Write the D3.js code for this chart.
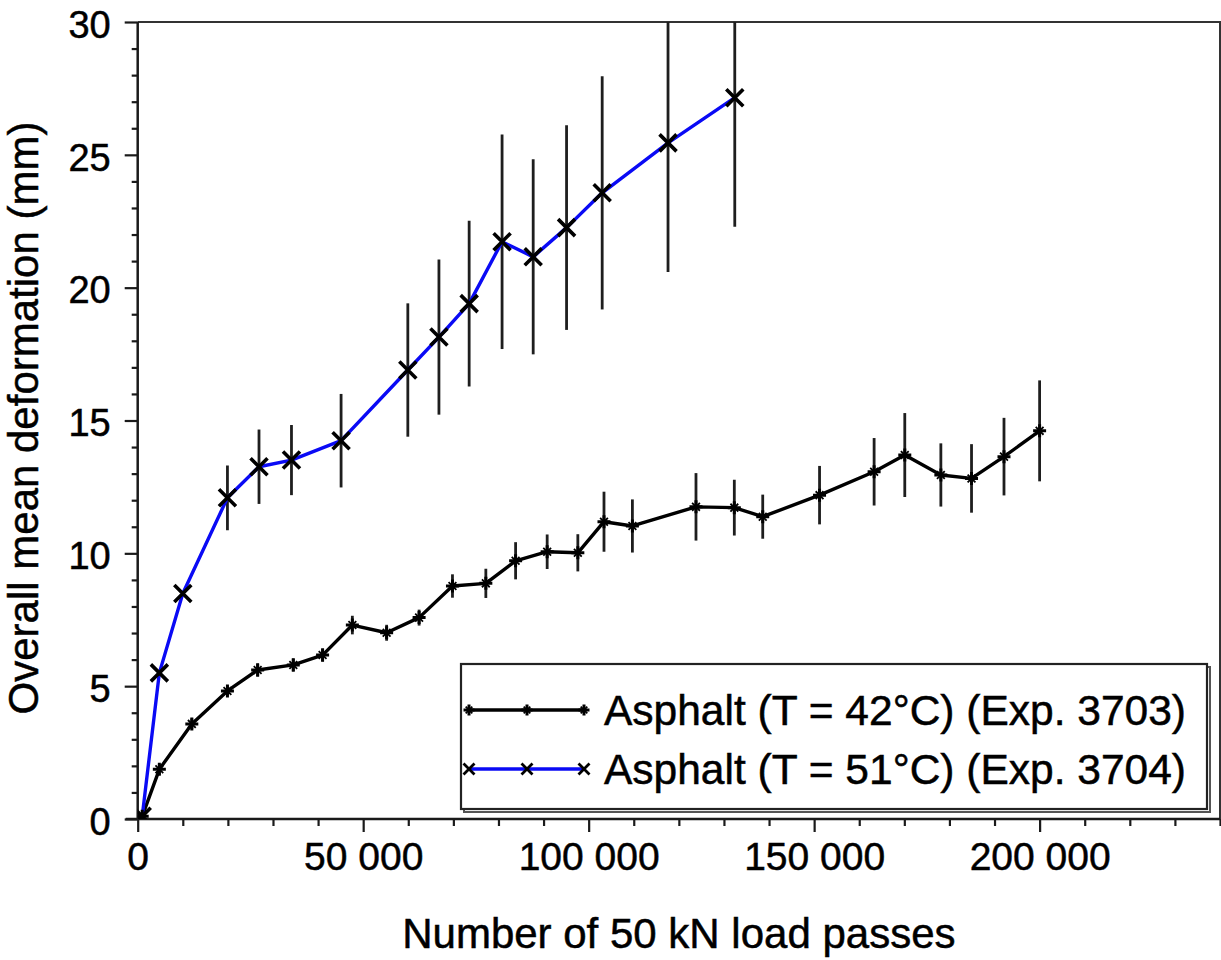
<!DOCTYPE html>
<html>
<head>
<meta charset="utf-8">
<script src="https://cdn.jsdelivr.net/npm/d3@7"></script>
<style>
  html, body { margin: 0; padding: 0; background: #fff; }
  svg { display: block; }
  text { font-family: "Liberation Sans", Arial, sans-serif; fill: #000; stroke: #000; stroke-width: 0.5px; }
</style>
</head>
<body>
<svg id="chart" width="1221" height="960"></svg>
<script>
// ---- Data ----
const series42X   = [1000, 4800, 12000, 19900, 26600, 34500, 41000, 47600, 55200, 62400, 69800, 77200, 83800, 90800, 97600, 103400, 109700, 123800, 132300, 138600, 151200, 163300, 170100, 178100, 184900, 192100, 200000];
const series42Y   = [0.1, 1.87, 3.58, 4.82, 5.61, 5.80, 6.17, 7.30, 7.01, 7.58, 8.77, 8.87, 9.72, 10.06, 10.02, 11.19, 11.03, 11.75, 11.72, 11.38, 12.19, 13.07, 13.70, 12.95, 12.82, 13.64, 14.61];
const series42Err = [0, 0.2, 0.2, 0.2, 0.25, 0.25, 0.25, 0.35, 0.3, 0.3, 0.44, 0.55, 0.7, 0.65, 0.7, 1.13, 1.0, 1.27, 1.05, 0.83, 1.1, 1.27, 1.58, 1.19, 1.29, 1.46, 1.9];

const series51X   = [1000, 4800, 10000, 19900, 26900, 34100, 45100, 59900, 66800, 73500, 80800, 87700, 95100, 103000, 117600, 132400];
const series51Y   = [0.1, 5.5, 8.49, 12.09, 13.26, 13.51, 14.24, 16.9, 18.14, 19.4, 21.73, 21.16, 22.26, 23.57, 25.45, 27.15];
const series51Err = [0, 0, 0, 1.22, 1.4, 1.32, 1.76, 2.51, 2.92, 3.12, 4.04, 3.67, 3.85, 4.39, 4.86, 4.86];

const seriesNames = ["Asphalt (T = 42°C) (Exp. 3703)", "Asphalt (T = 51°C) (Exp. 3704)"];
const xTickValues = [0, 50000, 100000, 150000, 200000];
const xTickLabels = ["0", "50 000", "100 000", "150 000", "200 000"];
const yTickValues = [0, 5, 10, 15, 20, 25, 30];
const xTitle = "Number of 50 kN load passes";
const yTitle = "Overall mean deformation (mm)";

// ---- Layout ----
const svg = d3.select("#chart");
const L = 137.7, R = 1220, T = 22, B = 819;
const x = d3.scaleLinear().domain([0, 240000]).range([L, R]);
const y = d3.scaleLinear().domain([0, 30]).range([B, T]);
const axisColor = "#1a1a1a";

svg.append("defs").append("clipPath").attr("id", "plotClip")
  .append("rect").attr("x", L).attr("y", T).attr("width", R - L).attr("height", B - T);

// Frame (top & right)
svg.append("path")
  .attr("d", `M${L},${T}H${R}V${B}`)
  .attr("fill", "none").attr("stroke", "#333").attr("stroke-width", 2);

// X axis
const xMinor = d3.range(0, 240001, 10000).filter(v => v % 50000 !== 0);
const xAx = svg.append("g").attr("transform", `translate(0,${B})`);
xAx.call(d3.axisBottom(x).tickValues(xMinor).tickSize(7).tickFormat(""));
const xMaj = svg.append("g").attr("transform", `translate(0,${B})`);
xMaj.call(d3.axisBottom(x).tickValues(xTickValues).tickSize(13)
  .tickFormat((d, i) => xTickLabels[i]).tickPadding(10));
[xAx, xMaj].forEach(g => {
  g.select(".domain").remove();
  g.selectAll(".tick line").attr("stroke", axisColor).attr("stroke-width", 2.2);
});
xMaj.selectAll(".tick text").attr("font-size", 39).attr("fill", "#000")
  .attr("font-family", "Liberation Sans, Arial, sans-serif").attr("dy", "0.72em");
svg.append("line").attr("x1", L - 12).attr("x2", R).attr("y1", B).attr("y2", B)
  .attr("stroke", axisColor).attr("stroke-width", 2.5);

// Y axis
const yMinor = d3.range(0, 31, 1).filter(v => v % 5 !== 0);
const yAx = svg.append("g").attr("transform", `translate(${L},0)`);
yAx.call(d3.axisLeft(y).tickValues(yMinor).tickSize(6).tickFormat(""));
const yMaj = svg.append("g").attr("transform", `translate(${L},0)`);
yMaj.call(d3.axisLeft(y).tickValues(yTickValues).tickSize(13).tickPadding(14));
[yAx, yMaj].forEach(g => {
  g.select(".domain").remove();
  g.selectAll(".tick line").attr("stroke", axisColor).attr("stroke-width", 2.2);
});
yMaj.selectAll(".tick text").attr("font-size", 38).attr("fill", "#000")
  .attr("font-family", "Liberation Sans, Arial, sans-serif").attr("dy", "0.4em");
svg.append("line").attr("x1", L).attr("x2", L).attr("y1", T).attr("y2", B + 1)
  .attr("stroke", axisColor).attr("stroke-width", 2.5);

// Axis titles
svg.append("text").attr("x", (L + R) / 2).attr("y", 948)
  .attr("text-anchor", "middle").attr("font-size", 42).text(xTitle);
svg.append("text").attr("transform", `translate(38,418) rotate(-90)`)
  .attr("text-anchor", "middle").attr("font-size", 42).text(yTitle);

// ---- Data marks ----
const data42 = series42X.map((v, i) => ({x: v, y: series42Y[i], e: series42Err[i]}));
const data51 = series51X.map((v, i) => ({x: v, y: series51Y[i], e: series51Err[i]}));
const plot = svg.append("g").attr("clip-path", "url(#plotClip)");

function errorBars(data) {
  plot.append("g").selectAll("line").data(data.filter(d => d.e > 0)).join("line")
    .attr("x1", d => x(d.x)).attr("x2", d => x(d.x))
    .attr("y1", d => y(d.y - d.e)).attr("y2", d => y(d.y + d.e))
    .attr("stroke", "#1e1e1e").attr("stroke-width", 2.8);
}
errorBars(data51);
errorBars(data42);

const line = d3.line().x(d => x(d.x)).y(d => y(d.y));
plot.append("path").datum(data42).attr("d", line)
  .attr("fill", "none").attr("stroke", "#000").attr("stroke-width", 3.4).attr("stroke-linejoin", "round");
plot.append("path").datum(data51).attr("d", line)
  .attr("fill", "none").attr("stroke", "#0a0af5").attr("stroke-width", 3.4).attr("stroke-linejoin", "round");

function plusMarker(g, cx, cy, s) {
  g.append("path").attr("d", `M${cx - s},${cy}H${cx + s}M${cx},${cy - s}V${cy + s}`)
    .attr("stroke", "#000").attr("stroke-width", 3);
  const t = s * 0.6;
  g.append("path").attr("d", `M${cx - t},${cy - t}L${cx + t},${cy + t}M${cx - t},${cy + t}L${cx + t},${cy - t}`)
    .attr("stroke", "#000").attr("stroke-width", 1.8);
}
function crossMarker(g, cx, cy, s, w) {
  g.append("path").attr("d", `M${cx - s},${cy - s}L${cx + s},${cy + s}M${cx - s},${cy + s}L${cx + s},${cy - s}`)
    .attr("stroke", "#000").attr("stroke-width", w);
}
const m42 = plot.append("g");
data42.forEach(d => plusMarker(m42, x(d.x), y(d.y), 6.5));
const m51 = plot.append("g");
data51.forEach(d => crossMarker(m51, x(d.x), y(d.y), 8.5, 3.6));

// ---- Legend ----
const lg = svg.append("g");
const bx = 461, by = 664, bw = 746, bh = 145;
lg.append("rect").attr("x", bx + 3).attr("y", by + 3).attr("width", bw).attr("height", bh)
  .attr("fill", "none").attr("stroke", "#555").attr("stroke-width", 2);
lg.append("rect").attr("x", bx).attr("y", by).attr("width", bw).attr("height", bh)
  .attr("fill", "#fff").attr("stroke", "#222").attr("stroke-width", 2.2);

const rows = [
  {name: seriesNames[0], color: "#000", yy: 710, kind: "plus"},
  {name: seriesNames[1], color: "#0a0af5", yy: 769, kind: "cross"}
];
rows.forEach(r => {
  lg.append("line").attr("x1", 469).attr("x2", 584).attr("y1", r.yy).attr("y2", r.yy)
    .attr("stroke", r.color).attr("stroke-width", 3.4);
  [469, 527, 584].forEach(px => {
    if (r.kind === "plus") plusMarker(lg, px, r.yy, 5.5);
    else crossMarker(lg, px, r.yy, 5.5, 2.8);
  });
  lg.append("text").attr("x", 604).attr("y", r.yy + 15).attr("font-size", 42)
    .attr("textLength", 582).attr("lengthAdjust", "spacingAndGlyphs").text(r.name);
});
</script>
</body>
</html>
